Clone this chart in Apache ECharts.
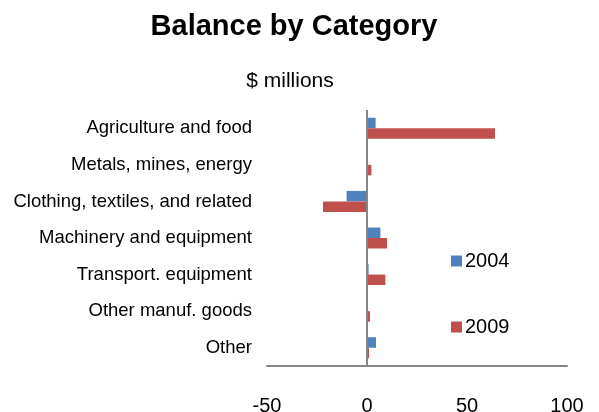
<!DOCTYPE html>
<html>
<head>
<meta charset="utf-8">
<script src="https://cdn.jsdelivr.net/npm/echarts@6/dist/echarts.min.js"></script>
<style>
html,body{margin:0;padding:0;background:#fff;}
#chart{width:599px;height:412px;}
</style>
</head>
<body>
<div id="chart"></div>
<script>
var categories = ['Agriculture and food','Metals, mines, energy','Clothing, textiles, and related','Machinery and equipment','Transport. equipment','Other manuf. goods','Other'];
var values2004 = [4.3, 0.3, -10.2, 6.7, 0.8, 0.2, 4.5];
var values2009 = [64, 2.2, -22, 10, 9.2, 1.5, 1];
var seriesNames = ['2004', '2009'];
var xTicks = [-50, 0, 50, 100];

var FONT = '"Liberation Sans", Arial, sans-serif';
var chart = echarts.init(document.getElementById('chart'), null, {renderer: 'canvas'});
chart.setOption({
  animation: false,
  backgroundColor: '#ffffff',
  title: [
    {text: 'Balance by Category', left: 289, top: 7, textAlign: 'center',
     textStyle: {fontFamily: FONT, fontSize: 29, fontWeight: 'bold', color: '#000'}},
    {text: '$ millions', left: 285, top: 66, textAlign: 'center',
     textStyle: {fontFamily: FONT, fontSize: 21, fontWeight: 'normal', color: '#000'}}
  ],
  legend: {
    orient: 'vertical', left: 451, top: 251, padding: 0,
    itemWidth: 11, itemHeight: 11, itemGap: 46,
    icon: 'rect',
    data: seriesNames,
    textStyle: {fontFamily: FONT, fontSize: 20, color: '#000', padding: [0,0,0,-2]}
  },
  grid: {left: 267, right: 32, top: 110, bottom: 46, containLabel: false, outerBoundsMode: 'none'},
  xAxis: {
    type: 'value', min: xTicks[0], max: xTicks[xTicks.length-1], interval: 50,
    axisLine: {show: true, onZero: false, lineStyle: {color: '#868686', width: 2}},
    axisTick: {show: false},
    splitLine: {show: false},
    axisLabel: {fontFamily: FONT, fontSize: 20, color: '#000', margin: 30}
  },
  yAxis: {
    type: 'category', data: categories, inverse: true,
    axisLine: {show: false},
    axisTick: {show: false},
    splitLine: {show: false},
    axisLabel: {fontFamily: FONT, fontSize: 18.5, color: '#000', margin: 15}
  },
  series: [
    {name: seriesNames[0], type: 'bar', data: values2004, barWidth: 10.5, barGap: '0%',
     itemStyle: {color: '#4F81BD'}},
    {name: seriesNames[1], type: 'bar', data: values2009, barWidth: 10.5, barGap: '0%',
     itemStyle: {color: '#C0504D'},
     markLine: {silent: true, symbol: 'none', label: {show: false},
       lineStyle: {color: '#868686', width: 2, type: 'solid'},
       data: [{xAxis: 0}]}}
  ]
});
</script>
</body>
</html>
